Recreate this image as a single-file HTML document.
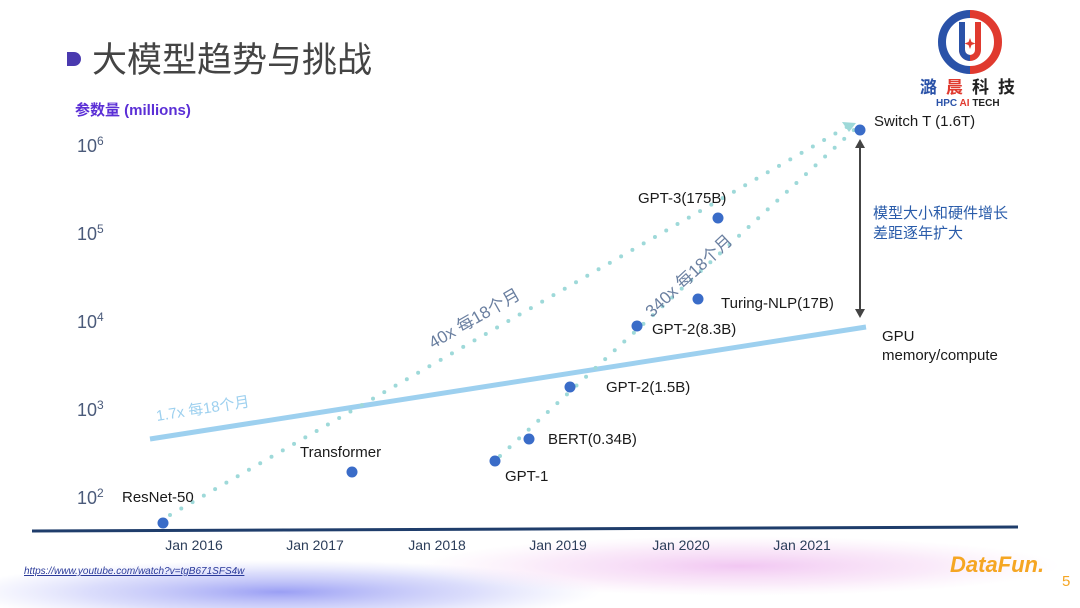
<!DOCTYPE html>
<html><head><meta charset="utf-8"><style>
body{margin:0;width:1080px;height:608px;overflow:hidden;background:#fff;font-family:"Liberation Sans","Noto Sans CJK SC",sans-serif;}
</style></head><body>
<svg width="1080" height="608" viewBox="0 0 1080 608" xmlns="http://www.w3.org/2000/svg" style="position:absolute;left:0;top:0">
<defs>
<radialGradient id="g1" cx="0.5" cy="0.5" r="0.5"><stop offset="0" stop-color="#8f94f3" stop-opacity="0.9"/><stop offset="0.6" stop-color="#b7bbf8" stop-opacity="0.5"/><stop offset="1" stop-color="#c8cbfa" stop-opacity="0"/></radialGradient>
<radialGradient id="g2" cx="0.5" cy="0.5" r="0.5"><stop offset="0" stop-color="#efbdf0" stop-opacity="0.85"/><stop offset="0.6" stop-color="#f5d5f4" stop-opacity="0.5"/><stop offset="1" stop-color="#f8e0f6" stop-opacity="0"/></radialGradient>
</defs>
<ellipse cx="280" cy="592" rx="320" ry="32" fill="url(#g1)"/>
<ellipse cx="740" cy="566" rx="320" ry="30" fill="url(#g2)"/>
<path d="M67 52 h7 a7 7 0 0 1 0 14 h-7z" fill="#4a3aaf"/>
<text x="92" y="72" font-size="35" fill="#444">大模型趋势与挑战</text>
<text x="75" y="115" font-size="15" font-weight="bold" fill="#5b2fd6">参数量 (millions)</text>
<g fill="#4a5a7a" font-size="18">
<text x="77" y="152">10<tspan font-size="12" dy="-7">6</tspan></text>
<text x="77" y="240">10<tspan font-size="12" dy="-7">5</tspan></text>
<text x="77" y="328">10<tspan font-size="12" dy="-7">4</tspan></text>
<text x="77" y="416">10<tspan font-size="12" dy="-7">3</tspan></text>
<text x="77" y="504">10<tspan font-size="12" dy="-7">2</tspan></text>
</g>
<line x1="32" y1="531" x2="1018" y2="527" stroke="#1f3d6b" stroke-width="3"/>
<g fill="#2c3e5a" font-size="14" text-anchor="middle">
<text x="194" y="550">Jan 2016</text><text x="315" y="550">Jan 2017</text><text x="437" y="550">Jan 2018</text>
<text x="558" y="550">Jan 2019</text><text x="681" y="550">Jan 2020</text><text x="802" y="550">Jan 2021</text>
</g>
<line x1="150" y1="439" x2="866" y2="327" stroke="#9dd0ef" stroke-width="5"/>
<text font-size="15" fill="#9dd0ef" transform="translate(157,421) rotate(-9)">1.7x 每18个月</text>
<g stroke="#9ed9d9" stroke-width="4" stroke-linecap="round" stroke-dasharray="0 13">
<line x1="170" y1="515" x2="852" y2="124"/>
<line x1="500" y1="456" x2="855" y2="129"/>
</g>
<path d="M842 122 L856 123 L849 132z" fill="#9ed9d9"/>
<text font-size="17" fill="#6a7fa0" transform="translate(433,349) rotate(-30)">40x 每18个月</text>
<text font-size="17" fill="#6a7fa0" transform="translate(652,318) rotate(-43)">340x 每18个月</text>
<g fill="#3a6cc8">
<circle cx="163" cy="523" r="5.5"/><circle cx="352" cy="472" r="5.5"/><circle cx="495" cy="461" r="5.5"/>
<circle cx="529" cy="439" r="5.5"/><circle cx="570" cy="387" r="5.5"/><circle cx="637" cy="326" r="5.5"/>
<circle cx="698" cy="299" r="5.5"/><circle cx="718" cy="218" r="5.5"/><circle cx="860" cy="130" r="5.5"/>
</g>
<g fill="#1a1a1a" font-size="15">
<text x="122" y="502">ResNet-50</text><text x="300" y="457">Transformer</text><text x="505" y="481">GPT-1</text>
<text x="548" y="444">BERT(0.34B)</text><text x="606" y="392">GPT-2(1.5B)</text><text x="652" y="334">GPT-2(8.3B)</text>
<text x="721" y="308">Turing-NLP(17B)</text><text x="638" y="203">GPT-3(175B)</text><text x="874" y="126">Switch T (1.6T)</text>
<text x="882" y="341">GPU</text><text x="882" y="360">memory/compute</text>
</g>
<line x1="860" y1="146" x2="860" y2="310" stroke="#444" stroke-width="2"/>
<path d="M855 148 L860 139 L865 148z M855 309 L860 318 L865 309z" fill="#444"/>
<g fill="#2a5caa" font-size="15"><text x="873" y="218">模型大小和硬件增长</text><text x="873" y="238">差距逐年扩大</text></g>
<path d="M970 14 A28 28 0 0 0 970 70" fill="none" stroke="#2a52a8" stroke-width="8"/>
<path d="M970 14 A28 28 0 0 1 970 70" fill="none" stroke="#e03a2f" stroke-width="8"/>
<path d="M962 22 v28 a8 8 0 0 0 16 0 v-28" fill="none" stroke="#e03a2f" stroke-width="6"/>
<path d="M962 22 v28 a8 8 0 0 0 8 8" fill="none" stroke="#2a52a8" stroke-width="6"/>
<path d="M970 38 l1.5 4 4 1.5 -4 1.5 -1.5 4 -1.5 -4 -4 -1.5 4 -1.5z" fill="#e03a2f"/>
<text x="920" y="93" font-size="17" font-weight="bold" fill="#2a52a8" letter-spacing="9">潞<tspan fill="#e03a2f">晨</tspan><tspan fill="#222">科技</tspan></text>
<text x="936" y="106" font-size="10" font-weight="bold" fill="#2a52a8">HPC <tspan fill="#e03a2f">AI</tspan> <tspan fill="#222">TECH</tspan></text>
<text x="24" y="574" font-size="10" font-style="italic" fill="#2a3a9a" text-decoration="underline">https://www.youtube.com/watch?v=tgB671SFS4w</text>
<text x="950" y="572" font-size="22" font-style="italic" font-weight="bold" fill="#f5a623">DataFun.</text>
<text x="1062" y="586" font-size="15" fill="#f5a623">5</text>
</svg>
</body></html>
